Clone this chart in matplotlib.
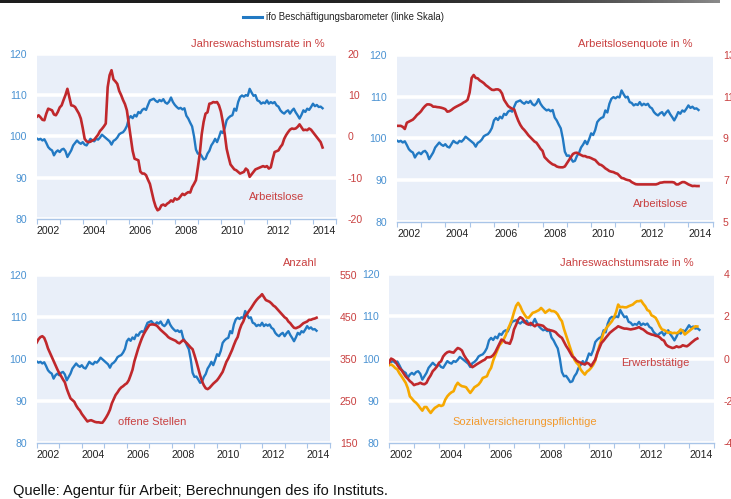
import numpy as np
import matplotlib
matplotlib.use('Agg')
import matplotlib.pyplot as plt
from matplotlib.lines import Line2D

plt.rcParams['font.family'] = ['Liberation Sans', 'DejaVu Sans']
plt.rcParams['axes.unicode_minus'] = False

# ---------------- data (monthly, Jan 2002 ...) ----------------
ifo_barometer = [
    99.5, 99.2, 99.4, 99.0, 99.3, 98.4, 97.4, 96.9, 96.6, 95.4, 96.2, 96.6,
    96.2, 96.8, 97.0, 96.4, 95.0, 95.8, 96.6, 97.8, 98.4, 99.0, 98.5, 98.2,
    98.6, 98.0, 97.8, 98.6, 99.4, 99.0, 98.8, 99.4, 99.2, 99.7, 100.4, 100.0,
    99.6, 99.2, 98.8, 98.0, 98.9, 99.2, 99.7, 100.5, 100.8, 101.0, 101.6, 102.5,
    104.3, 104.9, 104.4, 105.2, 104.8, 105.9, 105.6, 106.4, 106.7, 106.4, 107.6, 108.7,
    108.9, 109.1, 108.6, 108.3, 108.8, 108.5, 109.0, 108.2, 107.9, 108.4, 109.4, 108.3,
    107.6, 107.1, 106.7, 106.9, 106.5, 106.8, 105.0, 104.3, 103.3, 102.4, 100.0, 96.8,
    95.8, 95.9, 95.2, 94.4, 94.6, 95.8, 96.5, 97.8, 98.5, 99.4, 98.6, 99.8,
    101.2, 100.8, 102.0, 103.9, 104.5, 104.9, 105.1, 106.7, 106.2, 108.3, 109.5, 109.9,
    109.6, 110.0, 109.8, 111.5, 110.6, 109.8, 110.0, 108.7, 108.5, 107.9, 108.2, 108.0,
    108.7, 107.9, 108.3, 108.0, 108.3, 107.5, 107.2, 106.3, 105.8, 105.5, 106.0, 106.3,
    105.5, 106.2, 106.7, 105.8, 105.1, 104.3, 105.2, 106.3, 105.9, 106.7, 106.4, 107.1,
    107.9, 107.3, 107.6, 107.1, 107.2, 106.8,
]

arbeitslose_yoy = [
    4.7, 5.1, 4.6, 4.0, 3.9, 5.5, 6.7, 6.5, 6.3, 5.3, 5.1, 5.9,
    7.0, 7.5, 8.8, 10.0, 11.5, 9.5, 7.5, 7.4, 7.1, 6.3, 5.5, 4.3,
    2.0, -0.6, -1.2, -1.4, -1.3, -1.0, -0.8, -0.2, 0.4, 1.3, 1.8, 2.4,
    3.1, 11.9, 14.8, 16.0, 13.8, 13.3, 12.7, 11.0, 10.0, 8.8, 7.8, 6.3,
    3.0, -0.2, -3.5, -5.4, -5.6, -5.8, -8.5, -9.0, -9.0, -9.4, -10.5, -11.5,
    -13.5, -15.5, -17.0, -17.9, -17.6, -16.7, -16.5, -16.8, -16.3, -16.0, -15.5, -15.8,
    -15.0, -15.3, -15.1, -14.5, -13.9, -14.2, -13.8, -13.5, -13.6, -12.3, -11.5, -10.6,
    -7.5, -4.2, 0.5, 3.5, 5.5, 5.8, 7.9, 8.0, 8.3, 8.2, 8.3, 7.5,
    6.0, 3.5, 0.6, -3.0, -5.0, -6.8, -7.4, -8.0, -8.2, -8.6, -9.0, -8.8,
    -8.6, -7.8, -8.2, -9.8, -9.2, -8.6, -8.0, -7.8, -7.6, -7.4, -7.2, -7.4,
    -7.2, -7.8, -7.5, -5.5, -3.8, -3.6, -3.4, -2.6, -2.0, -0.6, 0.3, 1.0,
    1.6, 1.9, 1.8, 1.9, 2.3, 2.9, 2.2, 1.5, 1.6, 1.5, 1.9, 1.6,
    1.0, 0.4, -0.2, -0.8, -1.4, -2.7,
]

arbeitslosenquote = [
    9.6, 9.6, 9.6, 9.55, 9.45, 9.75, 9.8, 9.85, 9.9, 10.0, 10.12, 10.2,
    10.3, 10.44, 10.55, 10.63, 10.63, 10.6, 10.52, 10.52, 10.5, 10.49, 10.47, 10.44,
    10.4, 10.28, 10.3, 10.36, 10.44, 10.5, 10.55, 10.6, 10.65, 10.72, 10.77, 10.85,
    11.2, 11.9, 12.04, 11.9, 11.88, 11.78, 11.72, 11.65, 11.55, 11.48, 11.4, 11.33,
    11.32, 11.35, 11.35, 11.3, 11.15, 10.85, 10.7, 10.55, 10.48, 10.42, 10.39, 10.1,
    9.85, 9.65, 9.5, 9.4, 9.28, 9.15, 9.05, 8.95, 8.85, 8.79, 8.65, 8.5,
    8.4, 8.1, 8.0, 7.9, 7.82, 7.75, 7.72, 7.65, 7.62, 7.61, 7.61, 7.65,
    7.8, 7.95, 8.1, 8.25, 8.3, 8.31, 8.25, 8.2, 8.15, 8.15, 8.1, 8.09,
    8.05, 8.0, 7.96, 7.85, 7.75, 7.72, 7.65, 7.56, 7.5, 7.43, 7.4, 7.38,
    7.33, 7.3, 7.2, 7.1, 7.08, 7.03, 7.0, 6.98, 6.9, 6.85, 6.8, 6.79,
    6.79, 6.79, 6.79, 6.79, 6.79, 6.79, 6.79, 6.79, 6.79, 6.82, 6.87, 6.88,
    6.9, 6.9, 6.9, 6.9, 6.9, 6.88, 6.79, 6.79, 6.85, 6.9, 6.9, 6.85,
    6.79, 6.75, 6.71, 6.72, 6.71, 6.71,
]

offene_stellen = [
    390, 398, 403, 405, 401, 390, 376, 366, 356, 346, 336, 326,
    317, 310, 302, 295, 280, 268, 257, 253, 249, 240, 233, 228,
    220, 214, 208, 202, 204, 205, 203, 201, 200, 200, 199, 199,
    205, 212, 220, 230, 245, 255, 265, 271, 278, 283, 286, 290,
    293, 300, 312, 325, 345, 360, 375, 388, 400, 410, 418, 425,
    432, 433, 433, 432, 430, 425, 420, 416, 412, 408, 403, 400,
    398, 396, 394, 390, 388, 392, 396, 392, 388, 383, 378, 374,
    360, 345, 328, 312, 298, 288, 281, 279, 282, 287, 292, 296,
    300, 306, 313, 320, 332, 344, 352, 362, 372, 384, 395, 403,
    420, 432, 440, 452, 458, 465, 471, 478, 485, 491, 496, 500,
    505, 498, 491, 489, 487, 483, 478, 475, 470, 465, 460, 455,
    450, 447, 440, 436, 430, 425, 424, 426, 428, 432, 436, 438,
    440, 444, 444, 446, 447, 449,
]

erwerbstaetige = [
    -0.2, 0.0, -0.05, -0.13, -0.3, -0.45, -0.55, -0.7, -0.85, -0.95, -1.07, -1.15,
    -1.26, -1.22, -1.2, -1.15, -1.2, -1.22, -1.15, -0.95, -0.8, -0.6, -0.5, -0.38,
    -0.2, -0.13, 0.1, 0.22, 0.3, 0.33, 0.3, 0.28, 0.4, 0.5, 0.46, 0.38,
    0.16, 0.0, -0.13, -0.3, -0.41, -0.35, -0.28, -0.22, -0.16, -0.1, -0.05, 0.06,
    0.06, 0.08, 0.16, 0.3, 0.5, 0.7, 0.9, 0.85, 0.75, 0.74, 0.7, 0.95,
    1.38, 1.6, 1.85, 1.96, 1.9, 1.77, 1.65, 1.61, 1.69, 1.6, 1.53, 1.61,
    1.6, 1.58, 1.55, 1.45, 1.38, 1.35, 1.33, 1.3, 1.25, 1.14, 1.05, 0.98,
    0.79, 0.6, 0.45, 0.27, 0.1, 0.03, -0.1, -0.16, -0.2, -0.25, -0.28, -0.2,
    -0.25, -0.36, -0.2, -0.05, 0.27, 0.5, 0.74, 0.85, 0.98, 1.1, 1.22, 1.3,
    1.38, 1.45, 1.53, 1.49, 1.45, 1.42, 1.42, 1.4, 1.38, 1.4, 1.42, 1.45,
    1.49, 1.42, 1.38, 1.3, 1.22, 1.18, 1.14, 1.12, 1.08, 1.06, 1.0, 0.9,
    0.85, 0.66, 0.58, 0.54, 0.5, 0.52, 0.58, 0.54, 0.56, 0.63, 0.6, 0.58,
    0.65, 0.74, 0.82, 0.9, 0.95,
]

sozialversicherungspflichtige = [
    -0.32, -0.28, -0.35, -0.45, -0.52, -0.7, -0.84, -1.0, -1.15, -1.4, -1.79, -1.9,
    -2.02, -2.1, -2.21, -2.35, -2.47, -2.3, -2.3, -2.45, -2.58, -2.45, -2.34, -2.28,
    -2.21, -2.25, -2.21, -1.95, -1.79, -1.68, -1.6, -1.55, -1.3, -1.15, -1.25, -1.31,
    -1.33, -1.36, -1.5, -1.63, -1.5, -1.36, -1.3, -1.23, -1.1, -0.92, -0.88, -0.84,
    -0.6, -0.44, -0.1, 0.16, 0.4, 0.63, 0.75, 0.9, 1.1, 1.38, 1.6, 1.85,
    2.2, 2.5, 2.64, 2.48, 2.25, 2.09, 1.95, 1.93, 2.05, 2.17, 2.2, 2.25,
    2.3, 2.4, 2.3, 2.17, 2.25, 2.32, 2.25, 2.25, 2.2, 2.09, 1.9, 1.77,
    1.4, 1.1, 0.8, 0.5, 0.2, -0.05, -0.2, -0.3, -0.52, -0.65, -0.76, -0.62,
    -0.55, -0.44, -0.3, -0.1, 0.27, 0.6, 0.9, 1.22, 1.4, 1.53, 1.65, 1.77,
    1.95, 2.2, 2.56, 2.43, 2.45, 2.43, 2.43, 2.48, 2.52, 2.56, 2.65, 2.72,
    2.72, 2.75, 2.6, 2.48, 2.3, 2.25, 2.05, 2.0, 1.93, 1.75, 1.53, 1.38,
    1.35, 1.3, 1.22, 1.25, 1.2, 1.22, 1.2, 1.25, 1.38, 1.3, 1.14, 1.22,
    1.3, 1.38, 1.45, 1.53, 1.52,
]

year_labels = ['2002', '2004', '2006', '2008', '2010', '2012', '2014']

# ---------------- styling ----------------
W, H = 731, 499
BG = '#E9EFF9'
BLUE = '#2279C3'
BLUE_T = '#4A92D2'
RED = '#C0282C'
RED_T = '#C94040'
ORANGE = '#F6A800'
ORANGE_T = '#F29A2E'
SPINE = '#A9C5E8'
TICK_FS = 7.6
ANN_FS = 8.0

fig = plt.figure(figsize=(W / 100, H / 100), dpi=100)


def rect(l, r, t, b):
    return [l / W, 1 - b / H, (r - l) / W, (b - t) / H]


def ptxt(x, y, s, **kw):
    fig.text(x / W, 1 - y / H, s, **kw)


def months_for(series):
    return 2002 + np.arange(len(series)) / 12.0


def panel(r, rlim, rticks, rpad):
    ax = fig.add_axes(r)
    ax.set_facecolor(BG)
    ax.set_xlim(2002, 2015)
    ax.set_ylim(80, 120)
    ax.set_yticks([80, 90, 100, 110, 120])
    ax.yaxis.grid(True, color='white', lw=2.6)
    ax.set_axisbelow(True)
    for s in ('top', 'left', 'right'):
        ax.spines[s].set_visible(False)
    ax.spines['bottom'].set_color(SPINE)
    ax.spines['bottom'].set_linewidth(1.0)
    ax.tick_params(axis='y', length=0, labelcolor=BLUE_T, labelsize=TICK_FS, pad=7)
    ax.set_xticks(np.arange(2002, 2016))
    ax.tick_params(axis='x', which='major', length=3.5, color=SPINE,
                   labelbottom=False, direction='out')
    ax.set_xticks([int(y) + 0.5 for y in year_labels], minor=True)
    ax.set_xticklabels(year_labels, minor=True)
    ax.tick_params(axis='x', which='minor', length=0, labelsize=TICK_FS,
                   labelcolor='#222222', pad=5)
    ax2 = ax.twinx()
    ax2.set_ylim(*rlim)
    ax2.set_yticks(rticks)
    for s in ax2.spines.values():
        s.set_visible(False)
    ax2.tick_params(axis='y', length=0, labelcolor=RED_T, labelsize=TICK_FS, pad=rpad)
    ax.plot(months_for(ifo_barometer), ifo_barometer, color=BLUE, lw=1.7, zorder=3)
    return ax, ax2


# Panel 1
a1, b1 = panel(rect(36.7, 336, 53.7, 219), (-20, 20), [-20, -10, 0, 10, 20], 8.5)
b1.plot(months_for(arbeitslose_yoy), arbeitslose_yoy, color=RED, lw=1.9)

# Panel 2
a2, b2 = panel(rect(396.7, 712.7, 55, 221.7), (5, 13), [5, 7, 9, 11, 13], 7.4)
b2.plot(months_for(arbeitslosenquote), arbeitslosenquote, color=RED, lw=1.9)

# Panel 3
a3, b3 = panel(rect(36.7, 329.7, 275.3, 443.3), (150, 550), [150, 250, 350, 450, 550], 7.4)
b3.plot(months_for(offene_stellen), offene_stellen, color=RED, lw=1.9)

# Panel 4
a4, b4 = panel(rect(389, 714, 274.2, 442.9), (-4, 4), [-4, -2, 0, 2, 4], 6.7)
b4.plot(months_for(sozialversicherungspflichtige), sozialversicherungspflichtige,
        color=ORANGE, lw=1.9)
b4.plot(months_for(erwerbstaetige), erwerbstaetige, color=RED, lw=1.9)

# ---------------- texts ----------------
ptxt(325, 44, 'Jahreswachstumsrate in %', color=RED_T, fontsize=ANN_FS, ha='right', va='center')
ptxt(693, 44, 'Arbeitslosenquote in %', color=RED_T, fontsize=ANN_FS, ha='right', va='center')
ptxt(317, 263, 'Anzahl', color=RED_T, fontsize=ANN_FS, ha='right', va='center')
ptxt(694, 263, 'Jahreswachstumsrate in %', color=RED_T, fontsize=ANN_FS, ha='right', va='center')

ptxt(277, 197, 'Arbeitslose', color=RED_T, fontsize=ANN_FS, ha='center', va='center')
ptxt(661, 204, 'Arbeitslose', color=RED_T, fontsize=ANN_FS, ha='center', va='center')
ptxt(152, 422, 'offene Stellen', color=RED_T, fontsize=ANN_FS, ha='center', va='center')
ptxt(655, 363, 'Erwerbstätige', color=RED_T, fontsize=ANN_FS, ha='center', va='center')
ptxt(525, 422, 'Sozialversicherungspflichtige', color=ORANGE_T, fontsize=ANN_FS,
     ha='center', va='center')

# legend
fig.add_artist(Line2D([243 / W, 262 / W], [1 - 17 / H, 1 - 17 / H], color=BLUE, lw=2.2))
ptxt(266, 17, 'ifo Beschäftigungsbarometer (linke Skala)', color='#222222',
     fontsize=6.9, ha='left', va='center')

# source
ptxt(13, 491, 'Quelle: Agentur für Arbeit; Berechnungen des ifo Instituts.',
     color='#111111', fontsize=10.5, ha='left', va='center')

# top bar
bar = fig.add_axes([0, 1 - 3 / H, 720 / W, 3 / H])
grad = np.linspace(0, 1, 256) ** 4
bar.imshow(grad[None, :], aspect='auto', cmap=matplotlib.colors.LinearSegmentedColormap.from_list(
    'g', ['#1e1e1e', '#8a8a8a']), extent=[0, 1, 0, 1])
bar.axis('off')

fig.savefig('out.png', dpi=100)
